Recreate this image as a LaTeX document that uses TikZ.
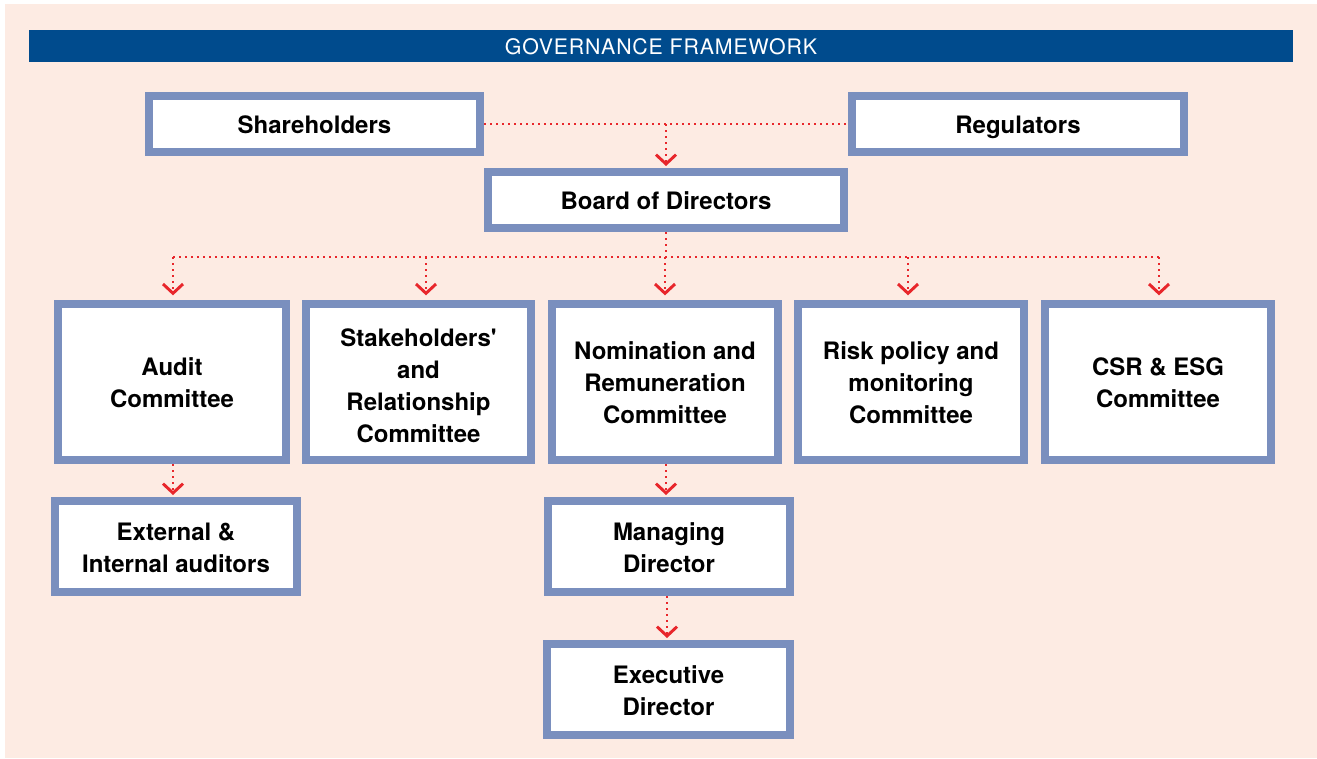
\documentclass[tikz,border=0pt]{standalone}
\usepackage{fontspec}
\setmainfont{TeX Gyre Heros}
\newfontfamily\bannerfont[LetterSpace=4]{TeX Gyre Heros}
\usetikzlibrary{arrows.meta}
\definecolor{peach}{HTML}{FDEBE3}
\definecolor{banner}{HTML}{004B8D}
\definecolor{boxline}{HTML}{7A8FBE}
\definecolor{linkred}{HTML}{E8262B}
\newcommand{\topstrut}{\rule[0pt]{0pt}{18.4pt}}
\newcommand{\botstrut}{\rule[-4pt]{0pt}{0pt}}
\tikzset{
  x=0.75pt, y=-0.75pt,
  govbox/.style={draw=boxline, line width=6pt, fill=white, inner sep=0pt,
    align=center, font=\fontsize{18pt}{24pt}\selectfont\bfseries},
  link/.style={draw=linkred, line width=1.8pt, dash pattern=on 1.5pt off 3pt},
  arrowlink/.style={link, -{Straight Barb[length=7pt, width=15pt, line width=2.2pt]}},
}
\begin{document}
\begin{tikzpicture}
\useasboundingbox (0,0) rectangle (1317,758);
\fill[white] (0,0) rectangle (1317,758);
\fill[peach] (5,4) rectangle (1317,758);
\fill[banner] (29,30) rectangle (1293,62);
\node[text=white, font=\bannerfont\fontsize{16pt}{18pt}\selectfont] (title) at (661,46.5) {GOVERNANCE FRAMEWORK};

\node[govbox, minimum width=248.25pt, minimum height=42pt] (share) at (314.5,124) {\topstrut Shareholders\botstrut};
\node[govbox, minimum width=249pt, minimum height=42pt] (reg) at (1018,124) {\topstrut Regulators\botstrut};
\node[govbox, minimum width=267pt, minimum height=42pt] (board) at (666,200) {\topstrut Board of Directors\botstrut};

\node[govbox, minimum width=171pt, minimum height=117pt] (audit) at (172,382) {\topstrut Audit\\Committee\botstrut};
\node[govbox, minimum width=168.75pt, minimum height=117pt] (stake) at (418.5,382) {\rule{0pt}{22.9pt}Stakeholders\textquotesingle\\and\\Relationship\\Committee\botstrut};
\node[govbox, minimum width=169.5pt, minimum height=117pt] (nom) at (665,382) {\topstrut Nomination and\\Remuneration\\Committee\botstrut};
\node[govbox, minimum width=169.5pt, minimum height=117pt] (risk) at (911,382) {\topstrut Risk policy and\\monitoring\\Committee\botstrut};
\node[govbox, minimum width=169.5pt, minimum height=117pt] (csr) at (1158,382) {\topstrut CSR \& ESG\\Committee\botstrut};

\node[govbox, minimum width=181.5pt, minimum height=68.25pt] (ext) at (176,546.5) {\topstrut External \&\\Internal auditors\botstrut};
\node[govbox, minimum width=181.5pt, minimum height=68.25pt] (mgd) at (669,546.5) {\topstrut Managing\\Director\botstrut};
\node[govbox, minimum width=182.25pt, minimum height=68.25pt] (exe) at (668.5,689.5) {\topstrut Executive\\Director\botstrut};

% top connectors
\coordinate (topj) at (666,124);
\draw[link] (share.east) -- (reg.west);
\draw[arrowlink, shorten >=1.5pt] (topj) -- (topj |- board.north);

% bus
\coordinate (busj) at (666,257);
\coordinate (b1) at (173,257);
\coordinate (b2) at (426,257);
\coordinate (b3) at (665,257);
\coordinate (b4) at (908,257);
\coordinate (b5) at (1159,257);
\draw[link] (board.south) -- (busj);
\draw[link] (b1) -- (b5);
\draw[arrowlink, shorten >=3.5pt] (b1) -- (b1 |- audit.north);
\draw[arrowlink, shorten >=3.5pt] (b2) -- (b2 |- stake.north);
\draw[arrowlink, shorten >=3.5pt] (b3) -- (b3 |- nom.north);
\draw[arrowlink, shorten >=3.5pt] (b4) -- (b4 |- risk.north);
\draw[arrowlink, shorten >=3.5pt] (b5) -- (b5 |- csr.north);

% lower connectors
\coordinate (a1) at (173,464);
\draw[arrowlink, shorten >=1.5pt] (a1) -- (a1 |- ext.north);
\coordinate (n1) at (666,464);
\draw[arrowlink, shorten >=1.5pt] (n1) -- (n1 |- mgd.north);
\coordinate (m1) at (667,596);
\draw[arrowlink, shorten >=1.5pt] (m1) -- (m1 |- exe.north);
\end{tikzpicture}
\end{document}
